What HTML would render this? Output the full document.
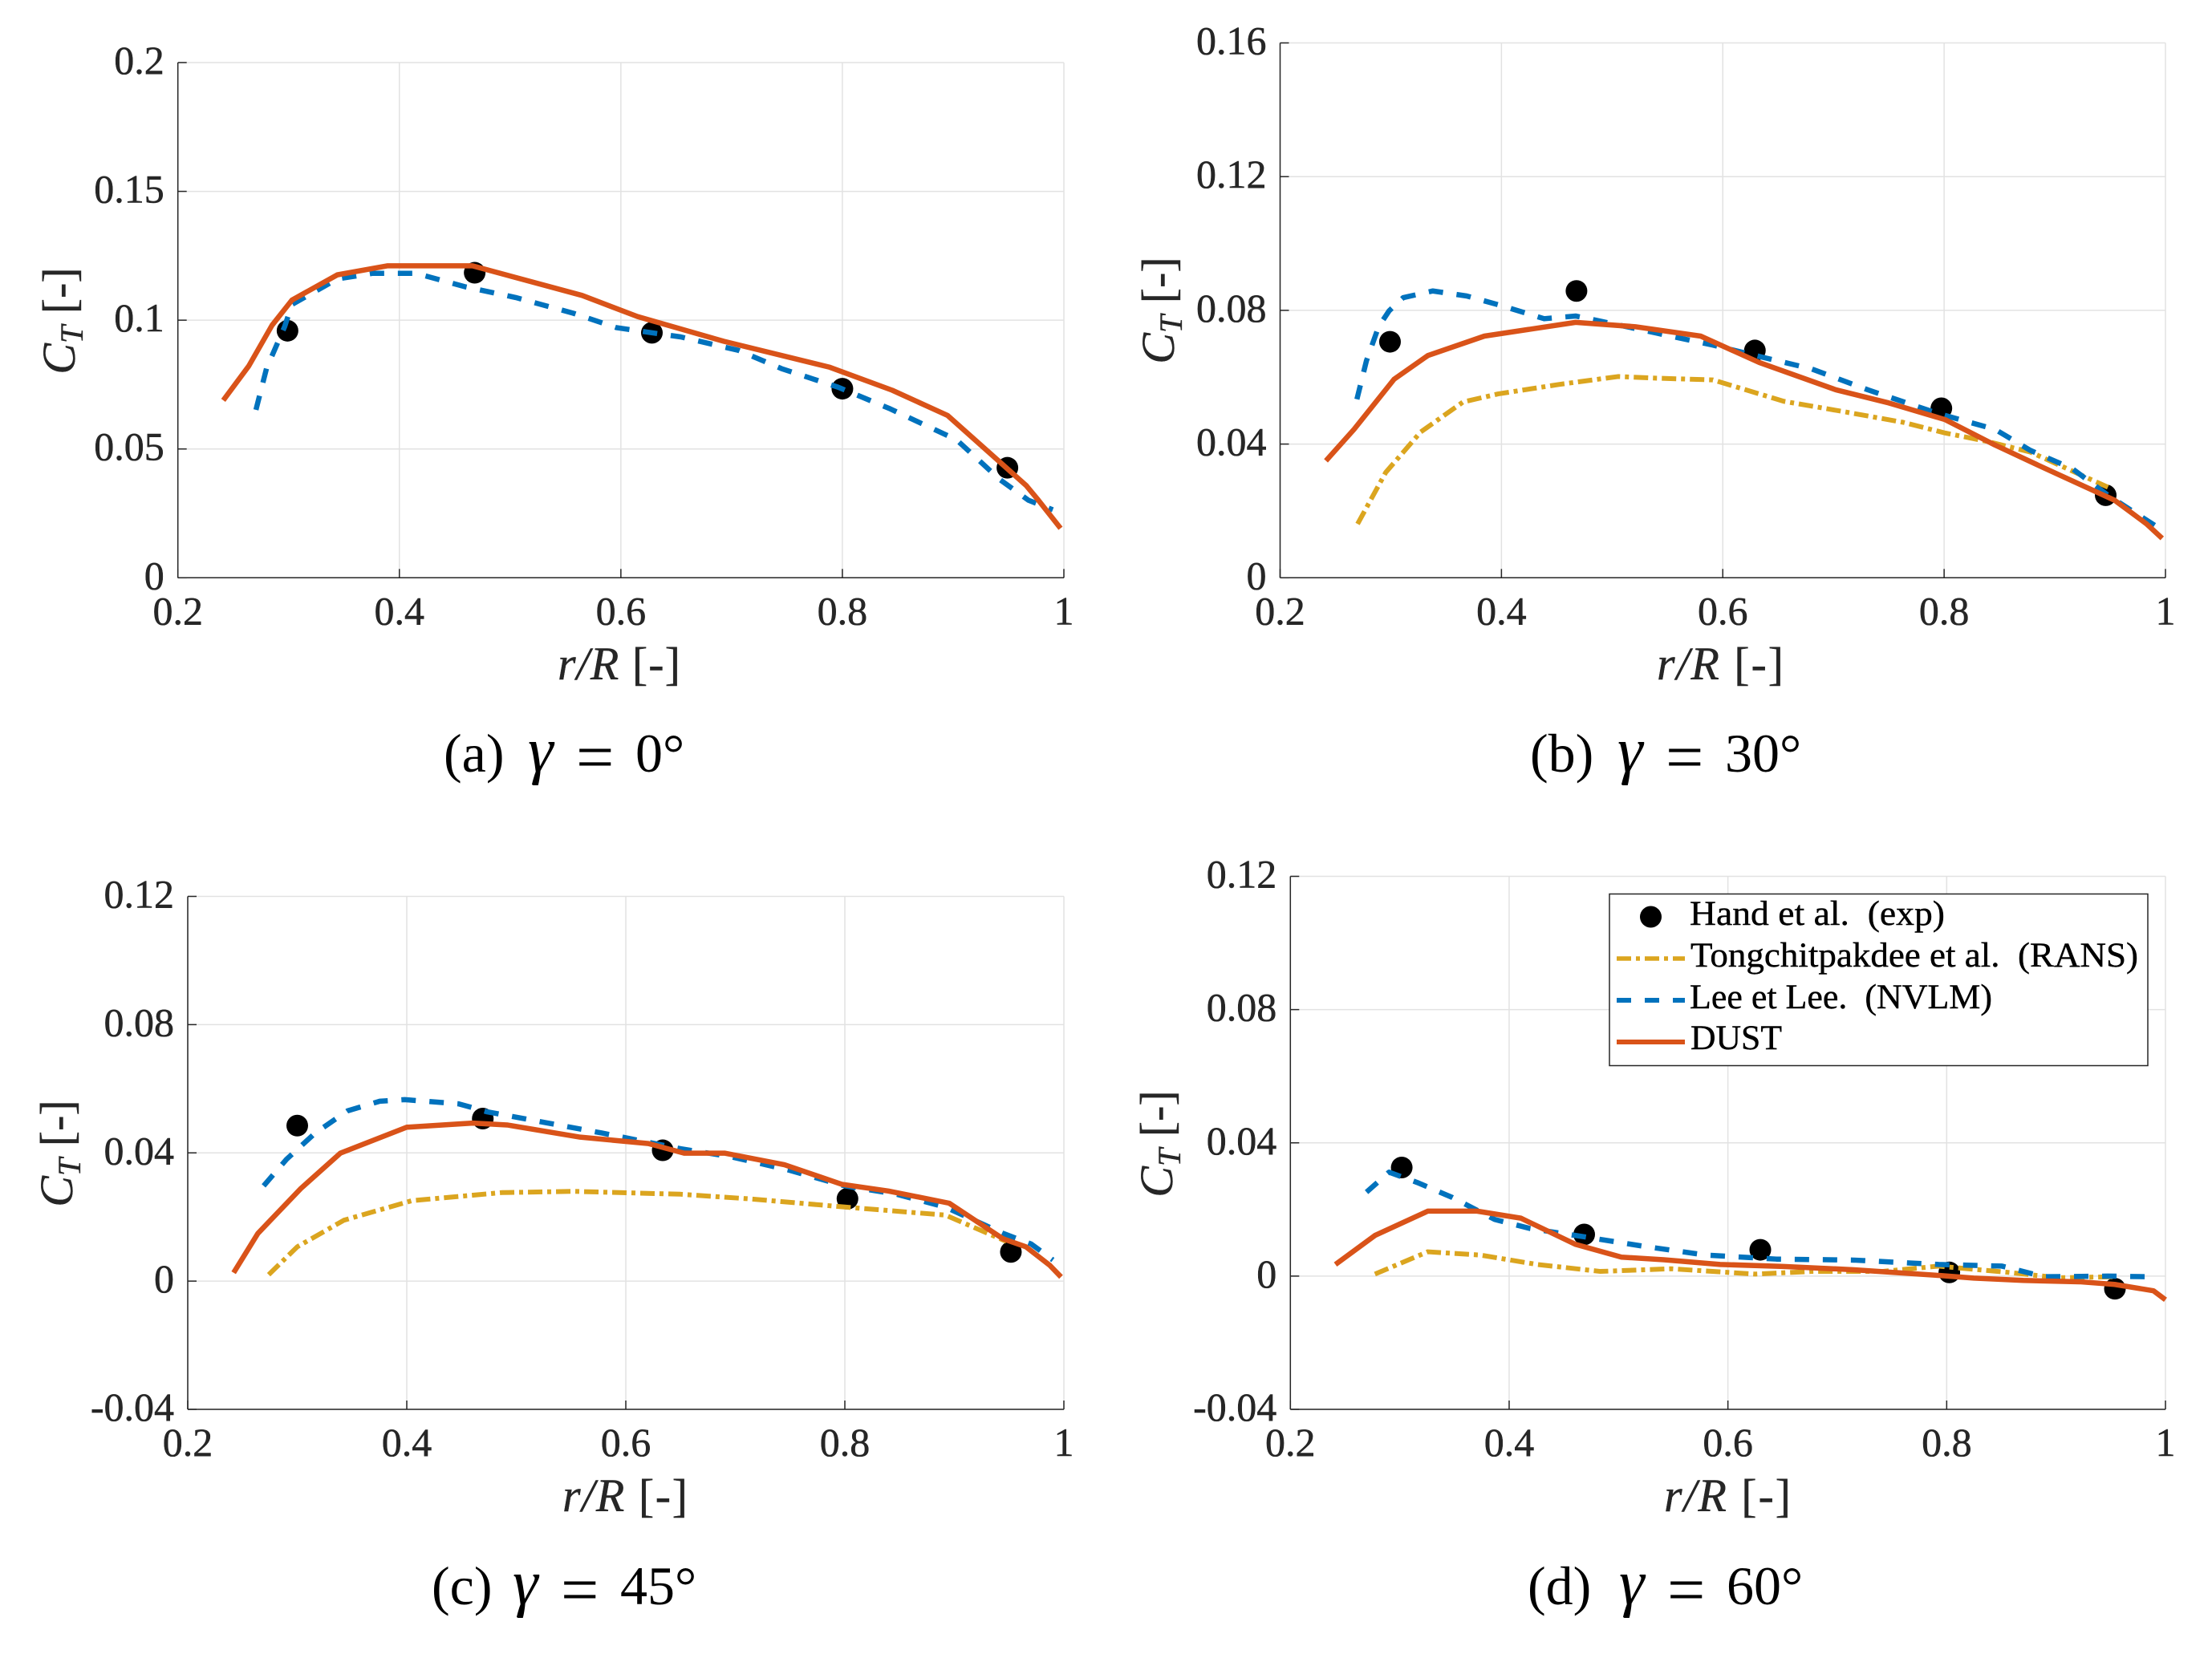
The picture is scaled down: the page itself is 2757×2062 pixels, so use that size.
<!DOCTYPE html>
<html lang="en">
<head>
<meta charset="utf-8">
<title>Thrust coefficient vs radial position</title>
<style>
html,body{margin:0;padding:0;background:#fff;}
svg{display:block;}
text{font-family:"Liberation Serif",serif;}
.tick{font-size:50px;fill:#262626;stroke:#262626;stroke-width:0.5px;}
.axis-title{font-size:58px;fill:#262626;stroke:#262626;stroke-width:0.4px;}
.caption{font-size:68px;fill:#000;}
.legend-text{font-size:43px;fill:#000;stroke:#000;stroke-width:0.4px;}
</style>
</head>
<body>
<svg id="figure" xmlns="http://www.w3.org/2000/svg" width="2757" height="2062" viewBox="0 0 2757 2062">
  <rect x="0" y="0" width="2757" height="2062" fill="#ffffff"/>

  <g id="panel-a"></g>
  <g id="panel-b"></g>
  <g id="panel-c"></g>
  <g id="panel-d"></g>

  <text class="axis-title" x="695" y="847" textLength="153"><tspan font-style="italic">r/R</tspan> [-]</text>
  <text class="axis-title" x="2065" y="847" textLength="158"><tspan font-style="italic">r/R</tspan> [-]</text>
  <text class="axis-title" x="701" y="1884" textLength="156"><tspan font-style="italic">r/R</tspan> [-]</text>
  <text class="axis-title" x="2074" y="1884" textLength="158"><tspan font-style="italic">r/R</tspan> [-]</text>

  <text class="axis-title" text-anchor="middle" transform="translate(93,400) rotate(-90)"><tspan font-style="italic">C</tspan><tspan font-style="italic" font-size="40" dy="10">T</tspan><tspan dy="-10">&#160;[-]</tspan></text>
  <text class="axis-title" text-anchor="middle" transform="translate(1463,387) rotate(-90)"><tspan font-style="italic">C</tspan><tspan font-style="italic" font-size="40" dy="10">T</tspan><tspan dy="-10">&#160;[-]</tspan></text>
  <text class="axis-title" text-anchor="middle" transform="translate(90,1438) rotate(-90)"><tspan font-style="italic">C</tspan><tspan font-style="italic" font-size="40" dy="10">T</tspan><tspan dy="-10">&#160;[-]</tspan></text>
  <text class="axis-title" text-anchor="middle" transform="translate(1461,1426) rotate(-90)"><tspan font-style="italic">C</tspan><tspan font-style="italic" font-size="40" dy="10">T</tspan><tspan dy="-10">&#160;[-]</tspan></text>

  <text class="caption" x="553" y="962">(a)<tspan x="658" font-style="italic" font-size="80">γ</tspan><tspan x="718" font-size="84" dy="10">=</tspan><tspan x="792" dy="-10">0°</tspan></text>
  <text class="caption" x="1907" y="962">(b)<tspan x="2016" font-style="italic" font-size="80">γ</tspan><tspan x="2076" font-size="84" dy="10">=</tspan><tspan x="2150" dy="-10">30°</tspan></text>
  <text class="caption" x="538" y="2000">(c)<tspan x="639" font-style="italic" font-size="80">γ</tspan><tspan x="699" font-size="84" dy="10">=</tspan><tspan x="773" dy="-10">45°</tspan></text>
  <text class="caption" x="1904" y="2000">(d)<tspan x="2018" font-style="italic" font-size="80">γ</tspan><tspan x="2078" font-size="84" dy="10">=</tspan><tspan x="2152" dy="-10">60°</tspan></text>

  <g id="legend">
    <rect x="2006" y="1114.5" width="671" height="214" fill="#ffffff" stroke="#262626" stroke-width="1.5"/>
    <circle cx="2057.5" cy="1143" r="13.5" fill="#000000"/>
    <line x1="2015" x2="2100" y1="1195" y2="1195" stroke="#dba51f" stroke-width="5.5" stroke-dasharray="18 6 5 6"/>
    <line x1="2015" x2="2100" y1="1247" y2="1247" stroke="#0072bd" stroke-width="6" stroke-dasharray="18 17"/>
    <line x1="2015" x2="2100" y1="1299" y2="1299" stroke="#d95319" stroke-width="6"/>
    <text class="legend-text" x="2106" y="1153" textLength="318" lengthAdjust="spacingAndGlyphs">Hand et al.&#160;&#160;(exp)</text>
    <text class="legend-text" x="2107" y="1205" textLength="558" lengthAdjust="spacingAndGlyphs">Tongchitpakdee et al.&#160;&#160;(RANS)</text>
    <text class="legend-text" x="2106" y="1257" textLength="377" lengthAdjust="spacingAndGlyphs">Lee et Lee.&#160;&#160;(NVLM)</text>
    <text class="legend-text" x="2107" y="1308" textLength="114" lengthAdjust="spacingAndGlyphs">DUST</text>
  </g>
</svg>

<script>
// ---- shared axis data ----
const xTicks = [0.2, 0.4, 0.6, 0.8, 1];
const xTickLabels = ['0.2', '0.4', '0.6', '0.8', '1'];

// ---- panel (a) gamma = 0 ----
const yTicksA = [0, 0.05, 0.1, 0.15, 0.2];
const yTickLabelsA = ['0', '0.05', '0.1', '0.15', '0.2'];
const expXA = [0.299, 0.468, 0.628, 0.800, 0.949];
const expYA = [0.0959, 0.1184, 0.0951, 0.0734, 0.0427];
const ransXA = [];
const ransYA = [];
const nvlmXA = [0.2705, 0.280, 0.2964, 0.303, 0.344, 0.376, 0.415, 0.46, 0.505, 0.557, 0.596, 0.654, 0.706, 0.745, 0.796, 0.842, 0.903, 0.942, 0.968, 0.99];
const nvlmYA = [0.0652, 0.0812, 0.0975, 0.1061, 0.116, 0.1182, 0.1182, 0.1129, 0.1088, 0.1027, 0.0971, 0.0935, 0.0883, 0.0812, 0.074, 0.0658, 0.0536, 0.0382, 0.0301, 0.0264];
const dustXA = [0.241, 0.264, 0.285, 0.303, 0.344, 0.389, 0.466, 0.565, 0.615, 0.693, 0.788, 0.845, 0.895, 0.966, 0.977, 0.997];
const dustYA = [0.0689, 0.0822, 0.098, 0.1078, 0.1176, 0.1211, 0.1211, 0.1096, 0.1014, 0.0918, 0.0818, 0.0728, 0.063, 0.0358, 0.0301, 0.0192];

// ---- panel (b) gamma = 30 ----
const yTicksB = [0, 0.04, 0.08, 0.12, 0.16];
const yTickLabelsB = ['0', '0.04', '0.08', '0.12', '0.16'];
const expXB = [0.2993, 0.4678, 0.629, 0.7975, 0.946];
const expYB = [0.0706, 0.0858, 0.068, 0.0507, 0.0247];
const ransXB = [0.27, 0.2954, 0.327, 0.3654, 0.397, 0.4513, 0.5054, 0.5404, 0.591, 0.655, 0.7057, 0.763, 0.801, 0.839, 0.878, 0.948];
const ransYB = [0.0161, 0.0315, 0.0436, 0.0526, 0.055, 0.0578, 0.0602, 0.0597, 0.0592, 0.0528, 0.0499, 0.0465, 0.0433, 0.0408, 0.0376, 0.0271];
const nvlmXB = [0.2694, 0.278, 0.289, 0.2986, 0.3113, 0.338, 0.3686, 0.4, 0.4386, 0.467, 0.502, 0.54, 0.591, 0.6356, 0.68, 0.7313, 0.795, 0.846, 0.878, 0.916, 0.948, 0.992];
const nvlmYB = [0.0534, 0.0649, 0.0751, 0.0799, 0.0838, 0.0858, 0.0843, 0.0814, 0.0775, 0.0783, 0.0759, 0.0732, 0.0696, 0.066, 0.0625, 0.0562, 0.0491, 0.0444, 0.0381, 0.0326, 0.0247, 0.0153];
const dustXB = [0.2414, 0.2668, 0.303, 0.3336, 0.3846, 0.467, 0.521, 0.58, 0.633, 0.7025, 0.75, 0.801, 0.846, 0.89, 0.954, 0.983, 0.997];
const dustYB = [0.035, 0.0444, 0.0594, 0.0665, 0.0723, 0.0764, 0.0751, 0.0723, 0.0644, 0.0562, 0.0523, 0.0473, 0.0397, 0.0329, 0.0232, 0.0161, 0.0118];

// ---- panel (c) gamma = 45 ----
const yTicksC = [-0.04, 0, 0.04, 0.08, 0.12];
const yTickLabelsC = ['-0.04', '0', '0.04', '0.08', '0.12'];
const expXC = [0.3, 0.4694, 0.6337, 0.8024, 0.9516];
const expYC = [0.0485, 0.0507, 0.0408, 0.0257, 0.0091];
const ransXC = [0.2739, 0.3, 0.3426, 0.4047, 0.4865, 0.5519, 0.65, 0.7154, 0.8, 0.8917, 0.9475];
const ransYC = [0.002, 0.0107, 0.019, 0.0251, 0.0276, 0.028, 0.0271, 0.0256, 0.0231, 0.0206, 0.0124];
const nvlmXC = [0.2693, 0.2902, 0.3164, 0.3459, 0.3753, 0.3982, 0.4473, 0.4734, 0.5257, 0.578, 0.65, 0.6958, 0.748, 0.8, 0.846, 0.8917, 0.9444, 0.97, 0.99];
const nvlmYC = [0.0297, 0.038, 0.0462, 0.0531, 0.0561, 0.0566, 0.0553, 0.0528, 0.0495, 0.0462, 0.0413, 0.0388, 0.0347, 0.0297, 0.0272, 0.0231, 0.0149, 0.0116, 0.0066];
const dustXC = [0.2419, 0.2641, 0.3033, 0.3393, 0.4, 0.4603, 0.4917, 0.5584, 0.6206, 0.6533, 0.6906, 0.7449, 0.7972, 0.8397, 0.8953, 0.9444, 0.9653, 0.9869, 0.9974];
const dustYC = [0.0026, 0.0149, 0.0289, 0.0399, 0.048, 0.0493, 0.0487, 0.0449, 0.0429, 0.0399, 0.0399, 0.0363, 0.0302, 0.0281, 0.0243, 0.0132, 0.0107, 0.005, 0.0013];

// ---- panel (d) gamma = 60 ----
const yTicksD = [-0.04, 0, 0.04, 0.08, 0.12];
const yTickLabelsD = ['-0.04', '0', '0.04', '0.08', '0.12'];
const expXD = [0.3018, 0.4686, 0.6296, 0.8024, 0.9538];
const expYD = [0.0326, 0.0125, 0.0079, 0.0011, -0.0038];
const ransXD = [0.2773, 0.3256, 0.3739, 0.4254, 0.4834, 0.5478, 0.6251, 0.6766, 0.7411, 0.7926, 0.8569, 0.902, 0.9536];
const ransYD = [0.0006, 0.0073, 0.0063, 0.0035, 0.0014, 0.0022, 0.0006, 0.0014, 0.0014, 0.003, 0.0011, -0.0005, -0.0002];
const nvlmXD = [0.2696, 0.2902, 0.3159, 0.3481, 0.3868, 0.419, 0.4705, 0.522, 0.58, 0.6444, 0.7153, 0.7926, 0.8505, 0.8891, 0.9473, 0.9859];
const nvlmYD = [0.0252, 0.0312, 0.0281, 0.0236, 0.017, 0.0143, 0.0117, 0.009, 0.0063, 0.0051, 0.0048, 0.0035, 0.003, -0.0002, 0, -0.0002];
const dustXD = [0.2412, 0.2773, 0.3256, 0.3707, 0.4106, 0.4609, 0.5027, 0.5414, 0.5929, 0.6509, 0.7153, 0.7926, 0.8248, 0.8699, 0.9214, 0.9536, 0.989, 1];
const dustYD = [0.0035, 0.0122, 0.0195, 0.0195, 0.0174, 0.0095, 0.0057, 0.0049, 0.0035, 0.0029, 0.0019, 0.0002, -0.0006, -0.0013, -0.0017, -0.0025, -0.0044, -0.0071];

const SVG_NS = 'http://www.w3.org/2000/svg';

function makeNode(tag, parent, attrs) {
  const el = document.createElementNS(SVG_NS, tag);
  for (const key in attrs) {
    el.setAttribute(key, attrs[key]);
  }
  parent.appendChild(el);
  return el;
}

function linePath(xs, ys, sx, sy) {
  return xs.map(function (v, i) {
    return (i === 0 ? 'M' : 'L') + sx(v).toFixed(2) + ' ' + sy(ys[i]).toFixed(2);
  }).join(' ');
}

function drawPanel(id, box, yTicks, yLabels, exp, rans, nvlm, dust) {
  const root = document.getElementById(id);
  const xMin = xTicks[0];
  const xMax = xTicks[xTicks.length - 1];
  const yMin = yTicks[0];
  const yMax = yTicks[yTicks.length - 1];
  const sx = function (v) { return box.left + (v - xMin) / (xMax - xMin) * (box.right - box.left); };
  const sy = function (v) { return box.bottom - (v - yMin) / (yMax - yMin) * (box.bottom - box.top); };

  xTicks.forEach(function (v, i) {
    const grid = makeNode('line', root, { x1: sx(v), x2: sx(v), y1: box.top, y2: box.bottom, stroke: '#e2e2e2', 'stroke-width': 1.5 });
    
    
    const label = makeNode('text', root, { x: sx(v), y: box.bottom + 58, 'text-anchor': 'middle', class: 'tick' });
    label.textContent = xTickLabels[i];
    
    
  });

  yTicks.forEach(function (v, i) {
    const grid = makeNode('line', root, { x1: box.left, x2: box.right, y1: sy(v), y2: sy(v), stroke: '#e2e2e2', 'stroke-width': 1.5 });
    
    
    const label = makeNode('text', root, { x: box.left - 17, y: sy(v) + 14, 'text-anchor': 'end', class: 'tick' });
    label.textContent = yLabels[i];
    
    
  });

  xTicks.forEach(function (v) {
    const tick = makeNode('line', root, { x1: sx(v), x2: sx(v), y1: box.bottom - 11, y2: box.bottom, stroke: '#262626', 'stroke-width': 1.5 });
    
    
  });
  yTicks.forEach(function (v) {
    const tick = makeNode('line', root, { x1: box.left, x2: box.left + 11, y1: sy(v), y2: sy(v), stroke: '#262626', 'stroke-width': 1.5 });
    
    
  });

  const xAxis = makeNode('line', root, { x1: box.left, x2: box.right, y1: box.bottom, y2: box.bottom, stroke: '#262626', 'stroke-width': 1.5 });
  
  
  const yAxis = makeNode('line', root, { x1: box.left, x2: box.left, y1: box.top, y2: box.bottom, stroke: '#262626', 'stroke-width': 1.5 });
  
  

  exp.x.forEach(function (v, i) {
    const dot = makeNode('circle', root, { cx: sx(v), cy: sy(exp.y[i]), r: 13.5, fill: '#000000' });
    
    
  });

  if (rans.x.length) {
    const ransLine = makeNode('path', root, { d: linePath(rans.x, rans.y, sx, sy), fill: 'none', stroke: '#dba51f', 'stroke-width': 6, 'stroke-dasharray': '18 6 5 6', 'stroke-linejoin': 'round' });
    
    
  }

  const nvlmLine = makeNode('path', root, { d: linePath(nvlm.x, nvlm.y, sx, sy), fill: 'none', stroke: '#0072bd', 'stroke-width': 6.5, 'stroke-dasharray': '18 17', 'stroke-linejoin': 'round' });
  
  

  const dustLine = makeNode('path', root, { d: linePath(dust.x, dust.y, sx, sy), fill: 'none', stroke: '#d95319', 'stroke-width': 6.5, 'stroke-linejoin': 'round' });
  
  
}

drawPanel('panel-a', { left: 221.7, right: 1326, top: 78, bottom: 720.3 }, yTicksA, yTickLabelsA,
  { x: expXA, y: expYA }, { x: ransXA, y: ransYA }, { x: nvlmXA, y: nvlmYA }, { x: dustXA, y: dustYA });
drawPanel('panel-b', { left: 1595.5, right: 2699, top: 53.5, bottom: 720.3 }, yTicksB, yTickLabelsB,
  { x: expXB, y: expYB }, { x: ransXB, y: ransYB }, { x: nvlmXB, y: nvlmYB }, { x: dustXB, y: dustYB });
drawPanel('panel-c', { left: 234, right: 1326, top: 1117.5, bottom: 1757 }, yTicksC, yTickLabelsC,
  { x: expXC, y: expYC }, { x: ransXC, y: ransYC }, { x: nvlmXC, y: nvlmYC }, { x: dustXC, y: dustYC });
drawPanel('panel-d', { left: 1608.3, right: 2699, top: 1092.5, bottom: 1757 }, yTicksD, yTickLabelsD,
  { x: expXD, y: expYD }, { x: ransXD, y: ransYD }, { x: nvlmXD, y: nvlmYD }, { x: dustXD, y: dustYD });
</script>
</body>
</html>
